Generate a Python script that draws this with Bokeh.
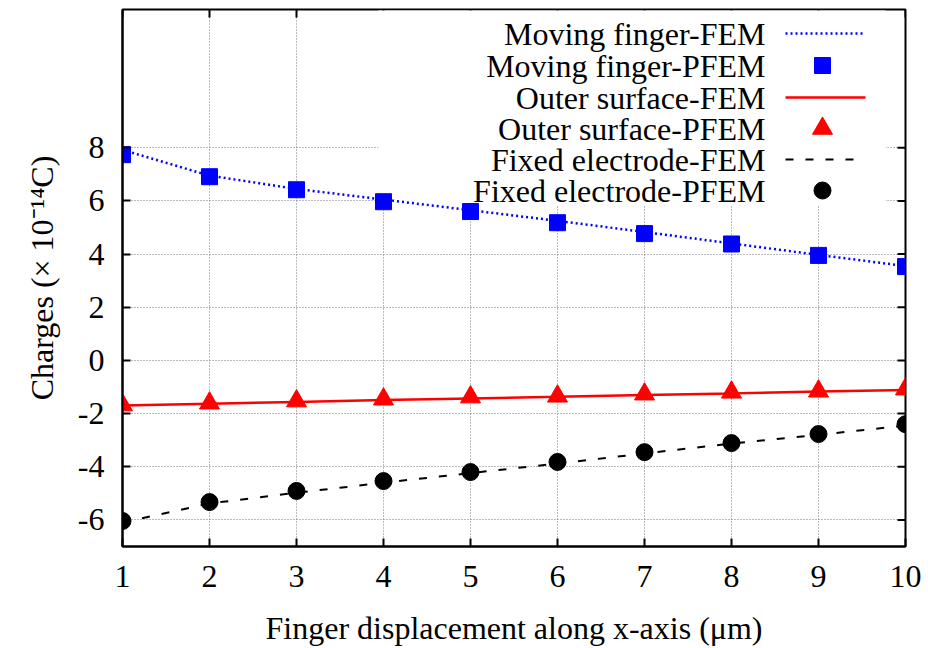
from bokeh.plotting import figure
from bokeh.models import Range1d, FixedTicker
from bokeh.core.properties import value
from bokeh.embed import file_html
from bokeh.resources import INLINE

# ---- data ----
x_disp = [1, 2, 3, 4, 5, 6, 7, 8, 9, 10]
moving_fem = [7.92, 6.95, 6.45, 6.05, 5.65, 5.25, 4.83, 4.40, 3.97, 3.55]
moving_pfem = [7.74, 6.91, 6.42, 5.97, 5.60, 5.18, 4.77, 4.38, 3.95, 3.53]
outer_fem = [-1.70, -1.63, -1.56, -1.49, -1.43, -1.37, -1.30, -1.24, -1.17, -1.11]
outer_pfem = [-1.68, -1.61, -1.53, -1.46, -1.38, -1.35, -1.27, -1.20, -1.16, -1.08]
fixed_fem = [-6.10, -5.38, -4.98, -4.60, -4.24, -3.88, -3.50, -3.13, -2.80, -2.45]
fixed_pfem = [-6.04, -5.33, -4.91, -4.54, -4.20, -3.82, -3.45, -3.11, -2.77, -2.40]

x_ticks = [1, 2, 3, 4, 5, 6, 7, 8, 9, 10]
y_ticks = [-6, -4, -2, 0, 2, 4, 6, 8]
y_tick_labels = ["-6", "-4", "-2", "0", "2", "4", "6", "8"]

legend_labels = ["Moving finger-FEM", "Moving finger-PFEM", "Outer surface-FEM",
                 "Outer surface-PFEM", "Fixed electrode-FEM", "Fixed electrode-PFEM"]

FONT = "Liberation Serif"
FS = "32px"
FW, FH = 783, 537  # frame size in pixels

p = figure(width=928, height=648, output_backend="svg", toolbar_location=None,
           x_range=Range1d(1, 10), y_range=Range1d(-7, 13.2),
           min_border_left=122, min_border_right=23, min_border_top=9,
           min_border_bottom=102)
p.background_fill_color = "white"
p.border_fill_color = "white"
p.outline_line_color = "black"
p.outline_line_width = 2

# pixel-space ranges for layout inside the frame
p.extra_x_ranges = {"px": Range1d(0, FW)}
p.extra_y_ranges = {"px": Range1d(0, FH)}

for ax in (p.xaxis[0], p.yaxis[0]):
    ax.major_label_text_font = FONT
    ax.major_label_text_font_size = FS
    ax.major_label_text_color = "black"
    ax.axis_label_text_font = FONT
    ax.axis_label_text_font_size = FS
    ax.axis_label_text_font_style = "normal"
    ax.axis_label_text_color = "black"
    ax.major_tick_in = 8
    ax.major_tick_out = 0
    ax.minor_tick_in = 0
    ax.minor_tick_out = 0
    ax.major_tick_line_width = 2
    ax.major_tick_line_color = "black"
    ax.axis_line_width = 2
    ax.axis_line_color = "black"

p.xaxis[0].ticker = FixedTicker(ticks=x_ticks)
p.yaxis[0].ticker = FixedTicker(ticks=y_ticks)
p.yaxis[0].major_label_overrides = {t: s for t, s in zip(y_ticks, y_tick_labels)}
p.xaxis[0].major_label_standoff = 19
p.yaxis[0].major_label_standoff = 18
p.xaxis[0].axis_label = "Finger displacement along x-axis (\u03bcm)"
p.yaxis[0].axis_label = "Charges (\u00d7 10\u207b\u00b9\u2074C)"
p.xaxis[0].axis_label_standoff = 20
p.yaxis[0].axis_label_standoff = 15

p.xgrid.ticker = FixedTicker(ticks=x_ticks)
p.ygrid.ticker = FixedTicker(ticks=y_ticks)
for g in (p.xgrid[0], p.ygrid[0]):
    g.grid_line_color = "#777777"
    g.grid_line_dash = "1 2"
    g.grid_line_width = 1

# mirrored tick marks on top and right edges
p.segment(x0=x_ticks, x1=x_ticks, y0=[FH] * len(x_ticks), y1=[FH - 8] * len(x_ticks),
          line_color="black", line_width=2, y_range_name="px")
p.segment(x0=[FW] * len(y_ticks), x1=[FW - 8] * len(y_ticks), y0=y_ticks, y1=y_ticks,
          line_color="black", line_width=2, x_range_name="px")

# legend white box (pixel units inside frame)
p.quad(left=[256], right=[763], bottom=[341], top=[FH - 1], fill_color="white",
       line_color=None, x_range_name="px", y_range_name="px")

# data
p.line(x_disp, moving_fem, line_color="blue", line_width=2.5, line_dash="2 3")
p.scatter(x_disp, moving_pfem, marker="square", size=16, fill_color="blue", line_color="blue")
p.line(x_disp, outer_fem, line_color="red", line_width=2.5)
p.scatter(x_disp, outer_pfem, marker="triangle", size=20, fill_color="red", line_color="red")
p.line(x_disp, fixed_fem, line_color="black", line_width=2, line_dash="8 12")
p.scatter(x_disp, fixed_pfem, marker="circle", size=17, fill_color="black", line_color="black")

# legend (pixel layout)
row_y = [513, 481, 449, 418, 387, 356]
p.text(x=[643] * 6, y=row_y, text=legend_labels, text_align="right", text_baseline="middle",
       text_font=value(FONT), text_font_size=FS, text_color="black",
       x_range_name="px", y_range_name="px")
p.line([663, 743], [row_y[0]] * 2, line_color="blue", line_width=2.5, line_dash="2 3",
       x_range_name="px", y_range_name="px")
p.scatter([700], [row_y[1]], marker="square", size=16, fill_color="blue", line_color="blue",
          x_range_name="px", y_range_name="px")
p.line([663, 743], [row_y[2]] * 2, line_color="red", line_width=2.5,
       x_range_name="px", y_range_name="px")
p.scatter([700], [row_y[3]], marker="triangle", size=20, fill_color="red", line_color="red",
          x_range_name="px", y_range_name="px")
p.line([663, 743], [row_y[4]] * 2, line_color="black", line_width=2, line_dash="8 12",
       x_range_name="px", y_range_name="px")
p.scatter([700], [row_y[5]], marker="circle", size=17, fill_color="black", line_color="black",
          x_range_name="px", y_range_name="px")

open("out.html", "w").write(file_html(p, INLINE))
